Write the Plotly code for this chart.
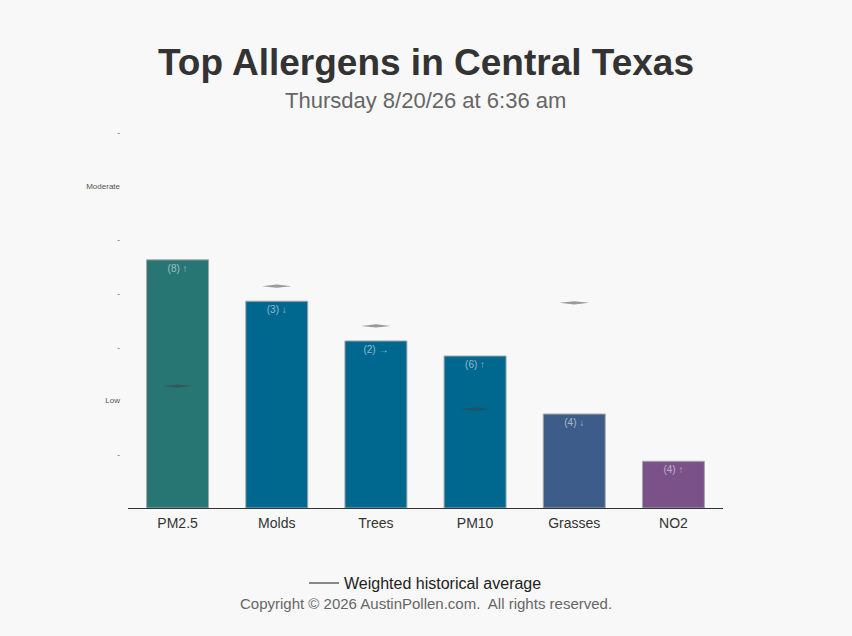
import plotly.graph_objects as go

# data
categories = ["PM2.5", "Molds", "Trees", "PM10", "Grasses", "NO2"]
levels = [4.62, 3.85, 3.11, 2.83, 1.75, 0.87]
counts = [8, 3, 2, 6, 4, 4]
trends = ["↑", "↓", "→", "↑", "↓", "↑"]
averages = [2.27, 4.13, 3.39, 1.84, 3.82, None]
bar_colors = ["#287674", "#00688f", "#00688f", "#00688f", "#3d5c8a", "#7a5189"]
tick_vals = [1, 2, 3, 4, 5, 6, 7]
tick_text = ["-", "Low", "-", "-", "-", "Moderate", "-"]

FONT = "Liberation Sans, Arial, sans-serif"

fig = go.Figure()

xs = list(range(len(categories)))
fig.add_trace(go.Bar(
    x=xs,
    y=levels,
    text=[f"({c}) {t}" for c, t in zip(counts, trends)],
    textposition="inside",
    insidetextanchor="end",
    textangle=0,
    textfont=dict(size=10, color="rgba(255,255,255,0.55)", family=FONT),
    marker=dict(color=bar_colors, line=dict(color="#a8a8a8", width=1)),
    showlegend=False,
    hoverinfo="skip",
))

# flattened diamonds for the historical averages
hw, hh = 0.15, 0.03
px, py = [], []
for i, v in enumerate(averages):
    if v is None:
        continue
    px += [i - hw, i, i + hw, i, i - hw, None]
    py += [v, v + hh, v, v - hh, v, None]
fig.add_trace(go.Scatter(
    x=px, y=py, mode="lines", fill="toself",
    fillcolor="rgba(60,60,60,0.5)", line=dict(width=0, color="rgba(60,60,60,0.5)"),
    showlegend=False, hoverinfo="skip",
))

# legend entry only
fig.add_trace(go.Scatter(
    x=[None], y=[None], mode="lines",
    line=dict(color="#888888", width=2),
    name="Weighted historical average",
))

fig.update_layout(
    width=852, height=636,
    paper_bgcolor="#f8f8f8", plot_bgcolor="#f8f8f8",
    margin=dict(l=128, r=129, t=132, b=128),
    bargap=0.375,
    font=dict(family=FONT, color="#333"),
    title=dict(
        text="<b>Top Allergens in Central Texas</b>",
        x=0.5, xanchor="center", y=1 - 62 / 636, yanchor="middle",
        font=dict(size=37, color="#333", family=FONT),
    ),
    legend=dict(
        orientation="h", x=0.5, xanchor="center", y=-0.2, yanchor="middle",
        font=dict(size=16, color="#222"), bgcolor="rgba(0,0,0,0)",
    ),
    xaxis=dict(
        tickmode="array", tickvals=xs, ticktext=categories,
        range=[-0.5, len(categories) - 0.5],
        showline=True, linecolor="#333", linewidth=1,
        showgrid=False, zeroline=False, ticks="",
        ticklabelstandoff=2,
        tickfont=dict(size=14, color="#333"),
    ),
    yaxis=dict(
        range=[0, 7], tickmode="array", tickvals=tick_vals, ticktext=tick_text,
        showgrid=False, zeroline=False, showline=False, ticks="",
        ticklabelstandoff=7,
        tickfont=dict(size=8, color="#555"),
    ),
    annotations=[
        dict(text="Thursday 8/20/26 at 6:36 am", x=0.5, y=1.085,
             xref="paper", yref="paper", showarrow=False, yanchor="middle",
             font=dict(size=22, color="#666", family=FONT)),
        dict(text="Copyright © 2026 AustinPollen.com.  All rights reserved.",
             x=0.5, y=-0.253, xref="paper", yref="paper", showarrow=False,
             yanchor="middle", font=dict(size=15, color="#666", family=FONT)),
    ],
)

fig.write_html(
    "out.html",
    config={"displayModeBar": False},
    post_script="document.body.style.margin='0';document.body.style.background='#f8f8f8';",
)
